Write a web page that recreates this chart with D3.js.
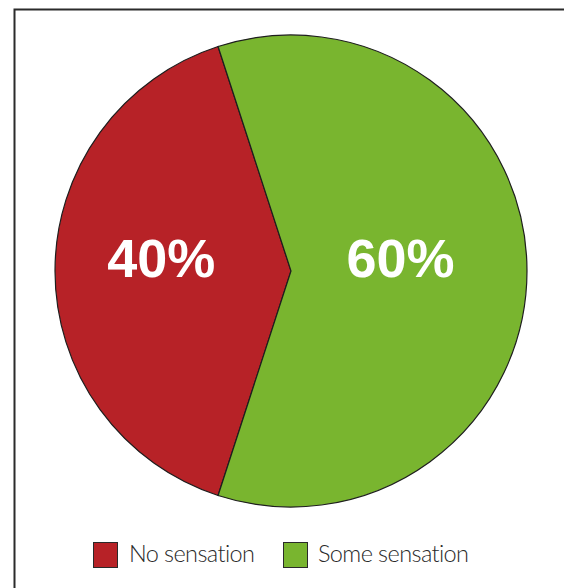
<!DOCTYPE html>
<html>
<head>
<meta charset="utf-8">
<script src="https://cdn.jsdelivr.net/npm/d3@7"></script>
<style>
  html, body { margin: 0; padding: 0; background: #fff; }
  svg { display: block; }
</style>
</head>
<body>
<script>
// Share of respondents by sensation reported
const categories = ["No sensation", "Some sensation"];
const values = [40, 60];
const labels = ["40%", "60%"];
const colors = ["#b72227", "#79b52f"];

const W = 564, H = 588;
const cx = 291, cy = 271, R = 236;

const svg = d3.select("body").append("svg")
  .attr("width", W).attr("height", H);

// frame
svg.append("path")
  .attr("d", `M${W + 2},9.5 H14.5 V${H + 2}`)
  .attr("fill", "none")
  .attr("stroke", "#2b2b2b")
  .attr("stroke-width", 2);

const color = d3.scaleOrdinal().domain(categories).range(colors);

// red slice centred on the left, green on the right
const total = d3.sum(values);
const redSpan = values[0] / total * 2 * Math.PI;
const pie = d3.pie()
  .sort(null)
  .value(d => d.value)
  .startAngle(-Math.PI / 2 - redSpan / 2)
  .endAngle(-Math.PI / 2 - redSpan / 2 + 2 * Math.PI);

const data = categories.map((c, i) => ({ category: c, value: values[i], label: labels[i] }));
const arcs = pie(data);
const arc = d3.arc().innerRadius(0).outerRadius(R);

const g = svg.append("g").attr("transform", `translate(${cx},${cy})`);

g.selectAll("path.slice")
  .data(arcs)
  .join("path")
  .attr("class", "slice")
  .attr("d", arc)
  .attr("fill", d => color(d.data.category))
  .attr("stroke", "#1e1e1e")
  .attr("stroke-width", 1.2)
  .attr("stroke-linejoin", "miter");

// percentage labels, pulled toward the centre by slice
const labelRadius = [0.55, 0.464];
g.selectAll("text.pct")
  .data(arcs)
  .join("text")
  .attr("class", "pct")
  .attr("transform", (d, i) => {
    const a = (d.startAngle + d.endAngle) / 2;
    const r = R * labelRadius[i];
    return `translate(${r * Math.sin(a)},${-r * Math.cos(a) + 6})`;
  })
  .attr("text-anchor", "middle")
  .attr("fill", "#ffffff")
  .attr("font-family", "'Liberation Sans', Arial, sans-serif")
  .attr("font-weight", "bold")
  .attr("font-size", 54)
  .text(d => d.data.label);

// legend
const legendItems = [
  { x: 93, textX: 129 },
  { x: 283, textX: 318 }
];
const legend = svg.append("g");
categories.forEach((c, i) => {
  legend.append("rect")
    .attr("x", legendItems[i].x + 0.5)
    .attr("y", 542.5)
    .attr("width", 24)
    .attr("height", 25)
    .attr("fill", color(c))
    .attr("stroke", "#2a2a2a")
    .attr("stroke-width", 1);
  legend.append("text")
    .attr("x", legendItems[i].textX)
    .attr("y", 562)
    .attr("fill", "#2a2a2a")
    .attr("font-family", "Lato, 'Open Sans', sans-serif")
    .attr("font-weight", 300)
    .attr("font-size", 23.5)
    .attr("letter-spacing", -0.6)
    .text(c);
});
</script>
</body>
</html>
